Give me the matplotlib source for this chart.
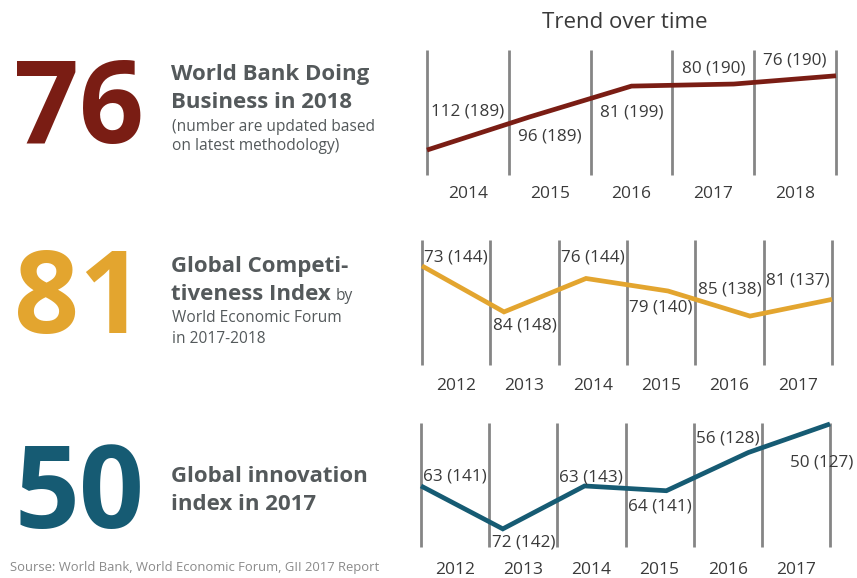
import numpy as np
import matplotlib
matplotlib.use("Agg")
import matplotlib.pyplot as plt

W, H = 857, 578

# ---------------- data ----------------
db_years = ["2014", "2015", "2016", "2017", "2018"]
db_rank = [112, 96, 81, 80, 76]
db_total = [189, 189, 199, 190, 190]

gci_years = ["2012", "2013", "2014", "2015", "2016", "2017"]
gci_rank = [73, 84, 76, 79, 85, 81]
gci_total = [144, 148, 144, 140, 138, 137]

gii_years = ["2012", "2013", "2014", "2015", "2016", "2017"]
gii_rank = [63, 72, 63, 64, 56, 50]
gii_total = [141, 142, 143, 141, 128, 127]

# label offsets (px, + = above line) and horizontal shifts (cells)
db_lab_dy = [25, -26, -26, 16, 19]
db_lab_dx = [0, 0, 0, 0, 0]
gci_lab_dy = [28, -22, 22, -18, 20, 26]
gci_lab_dx = [0, 0, 0, 0, 0, 0]
gii_lab_dy = [27, -24, 9, -16, 24, -27]
gii_lab_dx = [0, 0, 0, 0, 0, 0.38]

RED = "#7A1D14"
GOLD = "#E3A52F"
TEAL = "#165B73"
HEAD = "#54595b"
TXT = "#3a3a3a"
VLINE = "#858585"

FONT = "Open Sans"
plt.rcParams["font.family"] = [FONT, "DejaVu Sans"]

fig = plt.figure(figsize=(W / 100, H / 100), dpi=100)


def rect(x0, y0, x1, y1):
    return [x0 / W, 1 - y1 / H, (x1 - x0) / W, (y1 - y0) / H]


def fx(x):
    return x / W


def fy(y):
    return 1 - y / H


def panel(box, years, rank, total, ylim, color, lab_dy, lab_dx, pad):
    ax = fig.add_axes(rect(*box))
    n = len(years)
    ax.set_xlim(0, n)
    ax.set_ylim(*ylim)
    for s in ax.spines.values():
        s.set_visible(False)
    ax.set_yticks([])
    ax.vlines(np.arange(n + 1), 0, 1, transform=ax.get_xaxis_transform(),
              color=VLINE, lw=2.0, clip_on=False, zorder=1)
    xs = np.linspace(0, n, len(rank))
    ax.plot(xs, rank, color=color, lw=3.4, clip_on=False, zorder=3,
            solid_capstyle="butt", solid_joinstyle="miter")
    centers = np.arange(n) + 0.5
    ax.set_xticks(centers)
    ax.set_xticklabels(years, fontsize=12.5, color=TXT)
    ax.tick_params(axis="x", length=0, pad=pad)
    for j in range(n):
        cx = centers[j]
        yv = np.interp(cx, xs, rank)
        ax.annotate(f"{rank[j]} ({total[j]})", xy=(cx + lab_dx[j], yv),
                    xytext=(0, lab_dy[j] * 0.72), textcoords="offset points",
                    ha="center", va="center", fontsize=12.3, color=TXT,
                    zorder=4, annotation_clip=False)
    return ax


panel((427, 50, 836, 175), db_years, db_rank, db_total, (124.1, 63.5),
      RED, db_lab_dy, db_lab_dx, 8)
panel((422, 240, 832, 365), gci_years, gci_rank, gci_total, (96.7, 66.8),
      GOLD, gci_lab_dy, gci_lab_dx, 9)
panel((421, 423, 830, 547), gii_years, gii_rank, gii_total, (75.8, 49.8),
      TEAL, gii_lab_dy, gii_lab_dx, 10.5)

fig.text(fx(625), fy(22), "Trend over time", ha="center", va="center",
         fontsize=16, color=TXT)

# big numbers
for val, col, base in [("76", RED, 143), ("81", GOLD, 333), ("50", TEAL, 528)]:
    fig.text(fx(14), fy(base), val, ha="left", va="baseline", fontsize=82,
             fontweight="bold", color=col)

# headlines
def head(x, base, s, size=16, weight="bold", color=HEAD):
    return fig.text(fx(x), fy(base), s, ha="left", va="baseline",
                    fontsize=size, fontweight=weight, color=color)

head(171, 80, "World Bank Doing")
head(171, 108, "Business in 2018")
head(172, 131, "(number are updated based", size=11.2, weight="normal")
head(172, 150, "on latest methodology)", size=11.2, weight="normal")

head(171, 272, "Global Competi-")
t = head(171, 300, "tiveness Index")
head(172, 322, "World Economic Forum", size=11.2, weight="normal")
head(172, 343, "in 2017-2018", size=11.2, weight="normal")

fig.canvas.draw()
bb = t.get_window_extent(fig.canvas.get_renderer())
fig.text(bb.x1 / W + 5 / W, fy(300), "by", ha="left", va="baseline",
         fontsize=11.2, color=HEAD)

head(171, 482, "Global innovation")
head(171, 510, "index in 2017")

fig.text(fx(10), fy(568), "Sourse: World Bank, World Economic Forum, GII 2017 Report",
         ha="left", va="center", fontsize=9.4, color="#8a8a8a")

fig.savefig("out.png", dpi=100)
